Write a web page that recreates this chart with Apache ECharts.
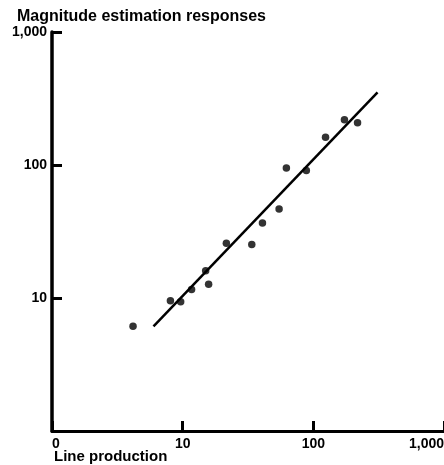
<!DOCTYPE html>
<html>
<head>
<meta charset="utf-8">
<script src="https://cdn.jsdelivr.net/npm/echarts@6/dist/echarts.min.js"></script>
<style>
  html, body { margin: 0; padding: 0; background: #fff; }
  #chart { width: 444px; height: 465px; }
</style>
</head>
<body>
<div id="chart"></div>
<script>
// line production (x) vs magnitude estimation (y), both log scale
const lineProduction = [4.17, 8.06, 9.65, 11.7, 15.0, 15.8, 21.6, 33.8, 40.8, 54.7, 62.2, 88.4, 124, 173, 218];
const magnitudeEst = [6.12, 9.55, 9.38, 11.6, 16.0, 12.7, 25.8, 25.2, 36.6, 46.7, 94.9, 90.9, 162, 219, 208];
// fitted line end points
const fitX = [5.98, 310];
const fitY = [6.12, 352];
const xTickLabels = { 1: "0", 10: "10", 100: "100", 1000: "1,000" };
const yTickLabels = { 1: "1", 10: "10", 100: "100", 1000: "1,000" };

const points = lineProduction.map((x, i) => [x, magnitudeEst[i]]);
const fit = fitX.map((x, i) => [x, fitY[i]]);

const chart = echarts.init(document.getElementById("chart"));
const font = "'Liberation Sans', Arial, sans-serif";
const ink = "#000";

chart.setOption({
  animation: false,
  title: [
    {
      text: "Magnitude estimation responses",
      left: 17,
      top: 9,
      padding: 0,
      textStyle: { fontFamily: font, fontSize: 16, fontWeight: "bold", color: ink },
    },
    {
      text: "Line production",
      left: 54,
      top: 449,
      padding: 0,
      textStyle: { fontFamily: font, fontSize: 15, fontWeight: "bold", color: ink },
    },
  ],
  // keep the grid where it is even though the 1,000 label runs to the edge
  grid: { left: 52, top: 32, width: 392, height: 399, outerBoundsMode: "none" },
  xAxis: {
    type: "log",
    logBase: 10,
    min: 1,
    max: 1000,
    splitLine: { show: false },
    axisLine: { lineStyle: { color: ink, width: 3 } },
    axisTick: { show: true, inside: true, length: 10, lineStyle: { color: ink, width: 3 } },
    axisLabel: {
      margin: 6,
      fontSize: 14,
      fontWeight: "bold",
      color: ink,
      alignMinLabel: "left",
      alignMaxLabel: "right",
      formatter: (v) => xTickLabels[Math.round(v)] || String(Math.round(v)),
    },
  },
  yAxis: {
    type: "log",
    logBase: 10,
    min: 1,
    max: 1000,
    splitLine: { show: false },
    axisLine: { lineStyle: { color: ink, width: 3.5 } },
    axisTick: { show: true, inside: true, length: 10, lineStyle: { color: ink, width: 3 } },
    axisLabel: {
      margin: 5,
      fontSize: 14,
      fontWeight: "bold",
      color: ink,
      showMinLabel: false,
      formatter: (v) => yTickLabels[Math.round(v)] || String(Math.round(v)),
    },
  },
  series: [
    {
      type: "line",
      data: fit,
      symbol: "none",
      lineStyle: { color: ink, width: 2.5 },
    },
    {
      type: "scatter",
      data: points,
      symbolSize: 7.5,
      itemStyle: { color: ink },
    },
  ],
});
</script>
</body>
</html>
